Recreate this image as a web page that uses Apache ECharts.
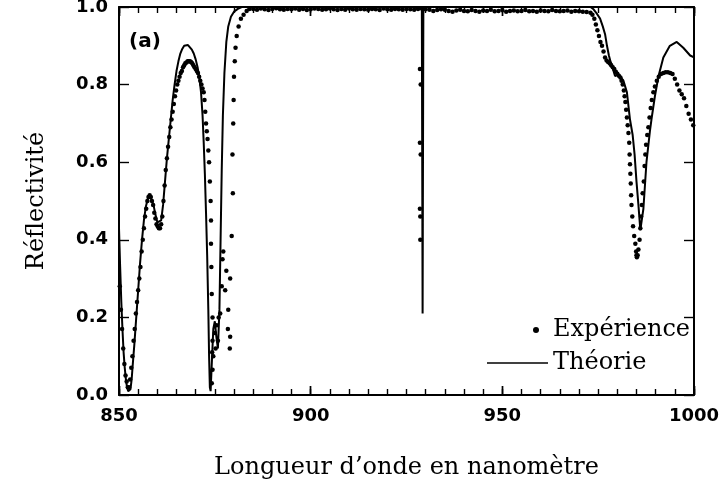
<!DOCTYPE html>
<html>
<head>
<meta charset="utf-8">
<script src="https://cdn.jsdelivr.net/npm/echarts@6/dist/echarts.min.js"></script>
<style>
  html, body { margin: 0; padding: 0; background: #fff; }
  #chart { width: 720px; height: 486px; }
</style>
</head>
<body>
<div id="chart"></div>
<script>
// theory curve [wavelength nm, reflectivity]
const theoryCurve = [
  [850.0, 0.43], [850.3, 0.33], [850.6, 0.24], [850.9, 0.17], [851.2, 0.11], [851.5, 0.07],
  [851.8, 0.04], [852.1, 0.02], [852.4, 0.01], [852.7, 0.008], [853.0, 0.015], [853.3, 0.04],
  [853.6, 0.08], [854.0, 0.13], [854.5, 0.20], [855.0, 0.27], [855.5, 0.34], [856.0, 0.40],
  [856.5, 0.45], [857.0, 0.485], [857.5, 0.505], [858.0, 0.515], [858.5, 0.51], [859.0, 0.49],
  [859.5, 0.465], [860.0, 0.445], [860.5, 0.44], [861.0, 0.45], [861.5, 0.49], [862.0, 0.55],
  [862.5, 0.61], [863.0, 0.66], [863.5, 0.71], [864.0, 0.76], [864.5, 0.80], [865.0, 0.835],
  [865.5, 0.86], [866.0, 0.88], [866.5, 0.892], [867.0, 0.90], [867.5, 0.903], [868.0, 0.902],
  [868.5, 0.897], [869.0, 0.89], [869.5, 0.88], [870.0, 0.865], [870.5, 0.845], [871.0, 0.815],
  [871.4, 0.78], [871.8, 0.72], [872.1, 0.65], [872.4, 0.57], [872.7, 0.47], [873.0, 0.36],
  [873.3, 0.22], [873.5, 0.10], [873.7, 0.02], [873.9, 0.01], [874.2, 0.08], [874.6, 0.17],
  [875.0, 0.19], [875.4, 0.15], [875.8, 0.12], [876.2, 0.22], [876.5, 0.40], [876.8, 0.58],
  [877.1, 0.72], [877.5, 0.83], [878.0, 0.91], [878.5, 0.95], [879.2, 0.975], [880.0, 0.988],
  [881.0, 0.995], [882.0, 1.0],
  [929.0, 1.0], [929.2, 0.21], [929.4, 1.0],
  [973.0, 1.0], [973.7, 0.995], [974.5, 0.985], [975.5, 0.97], [976.2, 0.95], [976.8, 0.93],
  [977.3, 0.90], [977.8, 0.875], [978.2, 0.86], [978.6, 0.85], [979.0, 0.835], [979.4, 0.822],
  [979.8, 0.82], [980.3, 0.826], [980.8, 0.824], [981.6, 0.81], [982.5, 0.78], [983.3, 0.71],
  [984.0, 0.67], [984.5, 0.62], [985.0, 0.55], [985.5, 0.49], [986.0, 0.425], [986.8, 0.48],
  [987.6, 0.60], [988.5, 0.68], [988.9, 0.71], [989.8, 0.77], [990.7, 0.82], [992.0, 0.87],
  [993.7, 0.90], [995.5, 0.91], [997.2, 0.895], [999.0, 0.875], [1000.0, 0.87]
];

// measured points, left band 850-884 nm
const expLeftBand = [
  [850.2, 0.28], [850.5, 0.22], [850.8, 0.17], [851.1, 0.12], [851.4, 0.08], [851.7, 0.05],
  [852.0, 0.035], [852.3, 0.02], [852.6, 0.02], [852.9, 0.04], [853.2, 0.07], [853.5, 0.10],
  [853.8, 0.14], [854.1, 0.17], [854.4, 0.21], [854.7, 0.24], [855.0, 0.27], [855.3, 0.30],
  [855.6, 0.33], [855.9, 0.37], [856.2, 0.40], [856.5, 0.43], [856.8, 0.46], [857.1, 0.48],
  [857.4, 0.50], [857.7, 0.51], [858.0, 0.515], [858.3, 0.51], [858.6, 0.50], [858.9, 0.49],
  [859.2, 0.47], [859.5, 0.455], [859.8, 0.44], [860.1, 0.435], [860.4, 0.43], [860.7, 0.43],
  [861.0, 0.44], [861.3, 0.46], [861.6, 0.50], [861.9, 0.54], [862.2, 0.58], [862.5, 0.61],
  [862.8, 0.64], [863.1, 0.665], [863.4, 0.69], [863.7, 0.71], [864.0, 0.73], [864.3, 0.75],
  [864.6, 0.77], [864.9, 0.785], [865.2, 0.80], [865.5, 0.81], [865.8, 0.82], [866.1, 0.83],
  [866.4, 0.835], [866.7, 0.845], [867.0, 0.85], [867.3, 0.855], [867.6, 0.857], [867.9, 0.86],
  [868.2, 0.86], [868.5, 0.86], [868.8, 0.858], [869.1, 0.855], [869.4, 0.85], [869.7, 0.845],
  [870.0, 0.84], [870.3, 0.835], [870.6, 0.83], [870.9, 0.82], [871.2, 0.81], [871.5, 0.80],
  [871.8, 0.79], [872.1, 0.78], [872.3, 0.76], [872.5, 0.73], [872.7, 0.70], [872.9, 0.68],
  [873.1, 0.66], [873.3, 0.63], [873.5, 0.60], [873.7, 0.55], [873.9, 0.50], [874.0, 0.45],
  [874.0, 0.39], [874.1, 0.33], [874.2, 0.26], [874.4, 0.20], [874.4, 0.14], [874.3, 0.11],
  [874.4, 0.065], [874.2, 0.03], [874.6, 0.10], [875.0, 0.16], [875.2, 0.12], [875.5, 0.18],
  [875.8, 0.14], [876.0, 0.20], [876.4, 0.21], [876.8, 0.28], [877.0, 0.35], [877.2, 0.37],
  [877.7, 0.27], [878.0, 0.32], [878.4, 0.17], [878.5, 0.22], [879.0, 0.30], [879.0, 0.15],
  [878.9, 0.12], [879.4, 0.41], [879.7, 0.52], [879.6, 0.62], [879.8, 0.70], [879.9, 0.76],
  [880.0, 0.82], [880.2, 0.86], [880.4, 0.895], [880.7, 0.925], [881.2, 0.95], [881.8, 0.97],
  [882.5, 0.98], [883.3, 0.99], [884.0, 0.995]
];

// plateau 885-972 nm, one point per nm
const plateauStart = 885;
const expPlateau = [
  0.995, 0.993, 0.996, 0.994, 0.992, 0.995, 0.997, 0.994, 0.993, 0.995,
  0.994, 0.996, 0.993, 0.995, 0.992, 0.994, 0.996, 0.995, 0.993, 0.994,
  0.996, 0.994, 0.992, 0.995, 0.993, 0.996, 0.994, 0.993, 0.995, 0.994,
  0.993, 0.995, 0.994, 0.992, 0.996, 0.994, 0.993, 0.995, 0.994, 0.993,
  0.995, 0.994, 0.993, 0.995, 0.996, 0.994, 0.993, 0.990, 0.992, 0.994,
  0.993, 0.990, 0.988, 0.991, 0.993, 0.990, 0.989, 0.992, 0.990, 0.988,
  0.991, 0.990, 0.993, 0.989, 0.990, 0.992, 0.988, 0.990, 0.991, 0.989,
  0.990, 0.992, 0.989, 0.990, 0.988, 0.991, 0.990, 0.989, 0.992, 0.990,
  0.989, 0.990, 0.991, 0.988, 0.990, 0.989, 0.988, 0.987
];

// the few points inside the narrow notch near 929 nm
const expNotch = [
  [928.5, 0.84], [928.7, 0.80], [928.5, 0.65], [928.7, 0.62], [928.5, 0.48], [928.6, 0.46], [928.6, 0.40]
];

// right band 973-1000 nm
const expRightBand = [
  [973.0, 0.985], [973.5, 0.98], [974.0, 0.97], [974.4, 0.955], [974.8, 0.94], [975.2, 0.925],
  [975.6, 0.91], [976.0, 0.90], [976.4, 0.885], [976.8, 0.87], [977.2, 0.862], [977.6, 0.858],
  [978.0, 0.855], [978.4, 0.85], [978.8, 0.845], [979.2, 0.84], [979.6, 0.833], [980.0, 0.828],
  [980.4, 0.823], [980.8, 0.818], [981.1, 0.81], [981.4, 0.80], [981.7, 0.785], [981.9, 0.77],
  [982.1, 0.755], [982.3, 0.735], [982.5, 0.715], [982.7, 0.695], [982.9, 0.675], [983.1, 0.65],
  [983.2, 0.62], [983.3, 0.595], [983.4, 0.57], [983.5, 0.545], [983.6, 0.515], [983.7, 0.49],
  [983.9, 0.46], [984.1, 0.435], [984.4, 0.41], [984.7, 0.39], [984.9, 0.37], [985.0, 0.36],
  [985.1, 0.355], [985.3, 0.36], [985.5, 0.375], [985.8, 0.40], [986.0, 0.43], [986.2, 0.46],
  [986.4, 0.49], [986.6, 0.52], [986.9, 0.55], [987.1, 0.59], [987.3, 0.62], [987.5, 0.645],
  [987.8, 0.67], [988.1, 0.69], [988.4, 0.715], [988.7, 0.74], [989.0, 0.76], [989.4, 0.78],
  [989.8, 0.795], [990.3, 0.81], [990.8, 0.82], [991.4, 0.827], [992.0, 0.83], [992.6, 0.832],
  [993.2, 0.832], [993.8, 0.83], [994.4, 0.827], [995.0, 0.815], [995.6, 0.80], [996.2, 0.785],
  [996.8, 0.775], [997.4, 0.765], [998.0, 0.745], [998.6, 0.725], [999.2, 0.71], [999.8, 0.695]
];

const xRange = { min: 850, max: 1000, major: 50, minor: 5 };
const yRange = { min: 0, max: 1, major: 0.2 };

const expPoints = expLeftBand
  .concat(expPlateau.map((r, i) => [plateauStart + i, r]))
  .concat(expNotch)
  .concat(expRightBand);

const labelFont = { fontFamily: 'DejaVu Sans', fontWeight: 'bold', fontSize: 18, color: '#000' };
const serifFont = { fontFamily: 'DejaVu Serif', fontSize: 24, color: '#000' };

const plot = { left: 119, right: 26, top: 7, bottom: 91 };
const plotBottomY = 486 - plot.bottom;

// every main axis draws one frame side and inward ticks
function frameAxis(extra, tickLen) {
  return Object.assign({
    type: 'value',
    axisLine: { show: true, onZero: false, lineStyle: { color: '#000', width: 2 } },
    axisTick: { show: true, inside: true, length: tickLen, lineStyle: { color: '#000', width: 1.4 } },
    axisLabel: { show: false },
    splitLine: { show: false }
  }, extra);
}
const xBase = { min: xRange.min, max: xRange.max, interval: xRange.major };
const yBase = { min: yRange.min, max: yRange.max, interval: yRange.major };

// thin strips along the bottom and top frame: their split lines act as the 5 nm ticks
const tickStrips = [
  { top: plotBottomY - 6, height: 6, step: xRange.minor },
  { top: plotBottomY - 9, height: 9, step: xRange.major },
  { top: plot.top, height: 6, step: xRange.minor },
  { top: plot.top, height: 9, step: xRange.major }
];

const grids = [Object.assign({ outerBoundsMode: 'none', containLabel: false }, plot)]
  .concat(tickStrips.map(s => ({
    left: plot.left, right: plot.right, top: s.top, height: s.height,
    outerBoundsMode: 'none', containLabel: false
  })));

const stripXAxes = tickStrips.map((s, i) => ({
  type: 'value', gridIndex: i + 1, min: xRange.min, max: xRange.max, interval: s.step,
  axisLine: { show: false }, axisTick: { show: false }, axisLabel: { show: false },
  splitLine: { show: true, lineStyle: { color: '#000', width: 1.4, type: 'solid' } }
}));
const stripYAxes = tickStrips.map((s, i) => ({
  type: 'value', gridIndex: i + 1, min: 0, max: 1,
  axisLine: { show: false }, axisTick: { show: false }, axisLabel: { show: false },
  splitLine: { show: false }
}));

const chart = echarts.init(document.getElementById('chart'));
chart.setOption({
  animation: false,
  backgroundColor: '#fff',
  title: {
    text: '(a)', left: 124, top: 27,
    textStyle: { fontFamily: 'DejaVu Sans', fontWeight: 'bold', fontSize: 20, color: '#000' }
  },
  grid: grids,
  legend: [
    {
      data: [{ name: 'Expérience', icon: 'circle' }],
      left: 533, top: 318, padding: 0, itemWidth: 24, itemHeight: 6,
      selectedMode: false, textStyle: serifFont
    },
    {
      data: [{ name: 'Théorie', icon: 'rect' }],
      left: 487, top: 351, padding: 0, itemWidth: 61, itemHeight: 1.5,
      selectedMode: false, textStyle: serifFont
    }
  ],
  xAxis: [
    frameAxis(Object.assign({
      gridIndex: 0, position: 'bottom',
      name: 'Longueur d’onde en nanomètre', nameLocation: 'middle', nameGap: 61,
      nameTextStyle: serifFont,
      axisLabel: Object.assign({
        show: true, margin: 12, showMinLabel: true, showMaxLabel: true,
        formatter: v => String(v)
      }, labelFont)
    }, xBase), 9),
    frameAxis(Object.assign({ gridIndex: 0, position: 'top' }, xBase), 9)
  ].concat(stripXAxes),
  yAxis: [
    frameAxis(Object.assign({
      gridIndex: 0, position: 'left',
      name: 'Réflectivité', nameLocation: 'middle', nameGap: 70, nameRotate: 90,
      nameTextStyle: serifFont,
      axisLabel: Object.assign({
        show: true, margin: 11, showMinLabel: true, showMaxLabel: true,
        formatter: v => v.toFixed(1)
      }, labelFont)
    }, yBase), 10),
    frameAxis(Object.assign({ gridIndex: 0, position: 'right' }, yBase), 10)
  ].concat(stripYAxes),
  series: [
    {
      name: 'Théorie', type: 'line', data: theoryCurve,
      xAxisIndex: 0, yAxisIndex: 0,
      showSymbol: false, symbol: 'none',
      lineStyle: { color: '#000', width: 2 }, itemStyle: { color: '#000' }, z: 2
    },
    {
      name: 'Expérience', type: 'scatter', data: expPoints,
      xAxisIndex: 0, yAxisIndex: 0,
      symbolSize: 4.5, itemStyle: { color: '#000', opacity: 1 }, z: 3
    }
  ]
});
</script>
</body>
</html>
